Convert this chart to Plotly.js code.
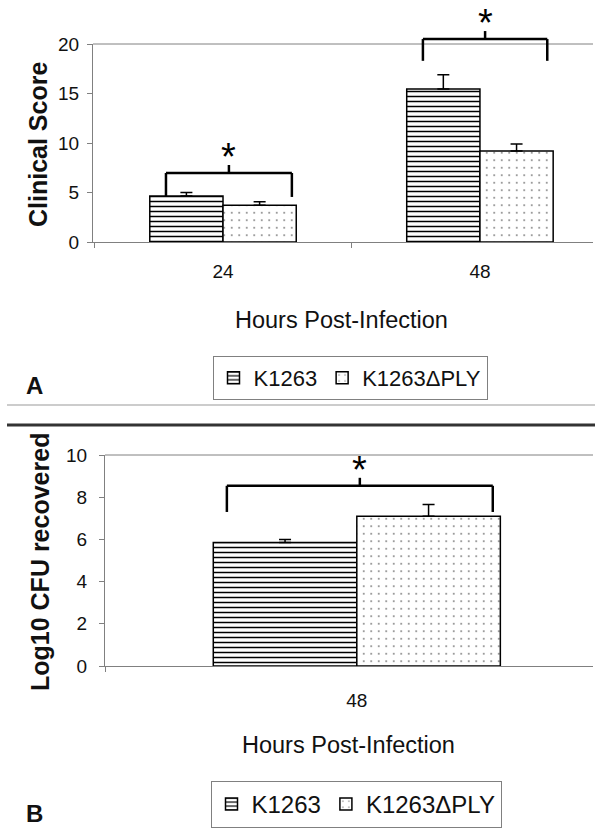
<!DOCTYPE html>
<html>
<head>
<meta charset="utf-8">
<script src="https://cdn.plot.ly/plotly-3.0.1.min.js"></script>
<style>
  body { margin: 0; background: #fff; }
  #chart { width: 602px; height: 832px; }
</style>
</head>
<body>
<div id="chart"></div>
<script>
// panel A: clinical score
const hours = ['24', '48'];
const scoreWT = [4.65, 15.45];
const scoreWTErr = [0.35, 1.45];
const scoreMut = [3.7, 9.2];
const scoreMutErr = [0.37, 0.7];

// panel B: bacterial load
const cfuHours = ['48'];
const cfuWT = [5.85];
const cfuWTErr = [0.15];
const cfuMut = [7.1];
const cfuMutErr = [0.55];

const strains = ['K1263', 'K1263ΔPLY'];

const W = 602, H = 832;
const px = v => v / W;
const py = v => 1 - v / H;
const FONT = 'Arial, "Liberation Sans", sans-serif';
const GRAY = '#808080';

function barTrace(x, y, err, name, xa, ya, leg, shape) {
    const lines = shape === '-';
    return {
        type: 'bar', x: x, y: y, name: name,
        xaxis: xa, yaxis: ya, legend: leg,
        marker: {
            color: 'white',
            line: { color: 'black', width: 1.5 },
            pattern: {
                shape: shape, fgcolor: 'black', bgcolor: 'white',
                size: lines ? 5 : 7.5, solidity: lines ? 0.3 : 0.025
            }
        },
        error_y: {
            type: 'data', symmetric: false, array: err, arrayminus: err.map(() => 0),
            color: 'black', thickness: 1.5, width: 6
        },
        hoverinfo: 'skip'
    };
}

const data = [
    barTrace(hours, scoreWT, scoreWTErr, strains[0], 'x', 'y', 'legend', '-'),
    barTrace(hours, scoreMut, scoreMutErr, strains[1], 'x', 'y', 'legend', '.'),
    barTrace(cfuHours, cfuWT, cfuWTErr, strains[0], 'x2', 'y2', 'legend2', '-'),
    barTrace(cfuHours, cfuMut, cfuMutErr, strains[1], 'x2', 'y2', 'legend2', '.')
];

const domA = { x: [px(93), px(593)], y: [py(242), py(44)], range: [0, 20] };
const domB = { x: [px(105), px(593)], y: [py(666), py(455)], range: [0, 10] };

// value on a y axis -> paper coordinate
function toPaper(dom, v) {
    return dom.y[0] + (v - dom.range[0]) / (dom.range[1] - dom.range[0]) * (dom.y[1] - dom.y[0]);
}

const xBase = {
    type: 'category', tickson: 'boundaries', ticks: 'outside', ticklen: 5,
    tickcolor: GRAY, showline: true, linecolor: GRAY, linewidth: 1,
    showgrid: false, zeroline: false, fixedrange: true,
    tickfont: { size: 19, color: '#111' }
};
const yBase = {
    ticks: 'outside', ticklen: 5, tickcolor: GRAY, showline: true, linecolor: GRAY,
    linewidth: 1, showgrid: false, zeroline: false, fixedrange: true,
    tickfont: { size: 19, color: '#111' }
};

const shapes = [];
const annotations = [];

// top frame line of each plot
[domA, domB].forEach(d => {
    shapes.push({ type: 'line', xref: 'paper', yref: 'paper', x0: d.x[0], x1: d.x[1],
        y0: d.y[1], y1: d.y[1], line: { color: GRAY, width: 1 } });
});

// significance brackets: [xref, dom, left, right, top, legBottom]
const brackets = [
    ['x', domA, -0.222, 0.268, 6.97, 4.55],
    ['x', domA, 0.778, 1.262, 20.5, 18.3],
    ['x2', domB, -0.258, 0.27, 8.54, 7.3]
];
brackets.forEach(b => {
    const [xr, d, l, r, top, low] = b;
    const yt = toPaper(d, top), yl = toPaper(d, low);
    const mid = (l + r) / 2;
    const ln = { color: 'black', width: 2.5 };
    shapes.push({ type: 'line', xref: xr, yref: 'paper', x0: l, x1: r, y0: yt, y1: yt, line: ln });
    shapes.push({ type: 'line', xref: xr, yref: 'paper', x0: l, x1: l, y0: yt, y1: yl, line: ln });
    shapes.push({ type: 'line', xref: xr, yref: 'paper', x0: r, x1: r, y0: yt, y1: yl, line: ln });
    shapes.push({ type: 'line', xref: xr, yref: 'paper', x0: mid, x1: mid, y0: yt, y1: yt + 8 / H, line: ln });
    annotations.push({ xref: xr, yref: 'paper', x: mid, y: yt + 8 / H, text: '*',
        showarrow: false, xanchor: 'center', yanchor: 'bottom', yshift: -15,
        font: { size: 38, color: 'black', family: FONT } });
});

// separators between panels
shapes.push({ type: 'line', xref: 'paper', yref: 'paper', x0: px(7), x1: px(595),
    y0: py(405), y1: py(405), line: { color: '#999', width: 1 } });
shapes.push({ type: 'line', xref: 'paper', yref: 'paper', x0: px(7), x1: px(595),
    y0: py(425), y1: py(425), line: { color: '#333', width: 3 } });

function label(text, x, y, size, bold, angle) {
    annotations.push({ xref: 'paper', yref: 'paper', x: px(x), y: py(y),
        text: bold ? '<b>' + text + '</b>' : text, showarrow: false,
        xanchor: 'center', yanchor: 'middle', textangle: angle || 0,
        font: { size: size, color: '#111', family: FONT } });
}
label('Clinical Score', 38, 145, 25, true, -90);
label('Hours Post-Infection', 342, 320, 23.5, false);
label('A', 34, 385, 24, true);
label('Log10 CFU recovered', 40, 562, 25, true, -90);
label('Hours Post-Infection', 348, 745, 23.5, false);
label('B', 34, 813, 24, true);

const legBase = {
    orientation: 'h', xanchor: 'center', yanchor: 'top', bgcolor: 'white',
    bordercolor: GRAY, borderwidth: 1, itemwidth: 30,
    font: { size: 22, color: '#111', family: FONT }
};

const layout = {
    width: W, height: H,
    margin: { l: 0, r: 0, t: 0, b: 0 },
    paper_bgcolor: 'white', plot_bgcolor: 'white',
    font: { family: FONT, color: '#111' },
    barmode: 'group', bargap: 0.43, bargroupgap: 0,
    showlegend: true,
    xaxis: Object.assign({}, xBase, { domain: domA.x, anchor: 'y', range: [-0.506, 1.44], ticklabelstandoff: 12 }),
    yaxis: Object.assign({}, yBase, { domain: domA.y, anchor: 'x', range: domA.range, dtick: 5, ticklabelstandoff: 4 }),
    xaxis2: Object.assign({}, xBase, { domain: domB.x, anchor: 'y2', range: [-0.5, 0.469], ticklabelstandoff: 17 }),
    yaxis2: Object.assign({}, yBase, { domain: domB.y, anchor: 'x2', range: domB.range, dtick: 2, ticklabelstandoff: 8 }),
    legend: Object.assign({}, legBase, { x: px(350), y: py(356) }),
    legend2: Object.assign({}, legBase, { x: px(356), y: py(781), font: { size: 24, color: '#111', family: FONT } }),
    shapes: shapes,
    annotations: annotations
};

Plotly.newPlot('chart', data, layout, { staticPlot: true });
</script>
</body>
</html>
